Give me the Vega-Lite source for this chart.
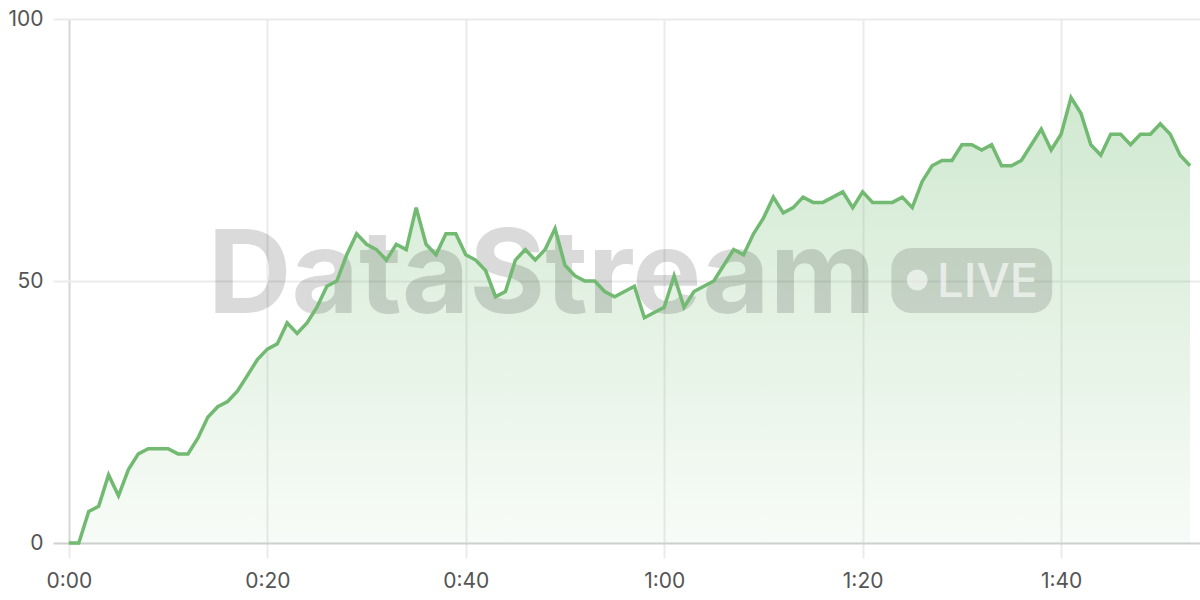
{
  "$schema": "https://vega.github.io/schema/vega-lite/v6.json",
  "width": 1147,
  "height": 524,
  "autosize": {"type": "none"},
  "padding": {"left": 53, "top": 19, "right": 0, "bottom": 57},
  "background": "#ffffff",
  "config": {"view": {"stroke": null}},
  "encoding": {
    "x": {
      "field": "t", "type": "quantitative",
      "scale": {"domain": [-1.6, 114], "nice": false, "zero": false},
      "axis": {
        "title": null,
        "values": [0, 20, 40, 60, 80, 100],
        "labelExpr": "floor(datum.value/60) + ':' + (datum.value % 60 < 10 ? '0' : '') + (datum.value % 60)",
        "grid": true,
        "gridColor": {"condition": {"test": "datum.value === 0", "value": "#d6d6d6"}, "value": "#ebebeb"},
        "gridWidth": 2,
        "tickColor": "#ebebeb",
        "tickWidth": 2,
        "tickSize": 15,
        "domainColor": "#cfcfcf",
        "domainWidth": 2,
        "labelFont": "Inter",
        "labelFontSize": 21,
        "labelColor": "#555555",
        "labelPadding": 12
      }
    },
    "y": {
      "field": "v", "type": "quantitative",
      "scale": {"domain": [0, 100], "nice": false},
      "axis": {
        "title": null,
        "values": [0, 50, 100],
        "grid": true,
        "gridColor": {"condition": {"test": "datum.value === 0", "value": "transparent"}, "value": "#ebebeb"},
        "gridWidth": 2,
        "domain": false,
        "ticks": false,
        "labelFont": "Inter",
        "labelFontSize": 21,
        "labelColor": "#555555",
        "labelPadding": 10
      }
    }
  },
  "datasets": {
    "series": [
      {"t": 0, "v": 0}, {"t": 1, "v": 0}, {"t": 2, "v": 6}, {"t": 3, "v": 7}, {"t": 4, "v": 13},
      {"t": 5, "v": 9}, {"t": 6, "v": 14}, {"t": 7, "v": 17}, {"t": 8, "v": 18}, {"t": 9, "v": 18},
      {"t": 10, "v": 18}, {"t": 11, "v": 17}, {"t": 12, "v": 17}, {"t": 13, "v": 20}, {"t": 14, "v": 24},
      {"t": 15, "v": 26}, {"t": 16, "v": 27}, {"t": 17, "v": 29}, {"t": 18, "v": 32}, {"t": 19, "v": 35},
      {"t": 20, "v": 37}, {"t": 21, "v": 38}, {"t": 22, "v": 42}, {"t": 23, "v": 40}, {"t": 24, "v": 42},
      {"t": 25, "v": 45}, {"t": 26, "v": 49}, {"t": 27, "v": 50}, {"t": 28, "v": 55}, {"t": 29, "v": 59},
      {"t": 30, "v": 57}, {"t": 31, "v": 56}, {"t": 32, "v": 54}, {"t": 33, "v": 57}, {"t": 34, "v": 56},
      {"t": 35, "v": 64}, {"t": 36, "v": 57}, {"t": 37, "v": 55}, {"t": 38, "v": 59}, {"t": 39, "v": 59},
      {"t": 40, "v": 55}, {"t": 41, "v": 54}, {"t": 42, "v": 52}, {"t": 43, "v": 47}, {"t": 44, "v": 48},
      {"t": 45, "v": 54}, {"t": 46, "v": 56}, {"t": 47, "v": 54}, {"t": 48, "v": 56}, {"t": 49, "v": 60},
      {"t": 50, "v": 53}, {"t": 51, "v": 51}, {"t": 52, "v": 50}, {"t": 53, "v": 50}, {"t": 54, "v": 48},
      {"t": 55, "v": 47}, {"t": 56, "v": 48}, {"t": 57, "v": 49}, {"t": 58, "v": 43}, {"t": 59, "v": 44},
      {"t": 60, "v": 45}, {"t": 61, "v": 51}, {"t": 62, "v": 45}, {"t": 63, "v": 48}, {"t": 64, "v": 49},
      {"t": 65, "v": 50}, {"t": 66, "v": 53}, {"t": 67, "v": 56}, {"t": 68, "v": 55}, {"t": 69, "v": 59},
      {"t": 70, "v": 62}, {"t": 71, "v": 66}, {"t": 72, "v": 63}, {"t": 73, "v": 64}, {"t": 74, "v": 66},
      {"t": 75, "v": 65}, {"t": 76, "v": 65}, {"t": 77, "v": 66}, {"t": 78, "v": 67}, {"t": 79, "v": 64},
      {"t": 80, "v": 67}, {"t": 81, "v": 65}, {"t": 82, "v": 65}, {"t": 83, "v": 65}, {"t": 84, "v": 66},
      {"t": 85, "v": 64}, {"t": 86, "v": 69}, {"t": 87, "v": 72}, {"t": 88, "v": 73}, {"t": 89, "v": 73},
      {"t": 90, "v": 76}, {"t": 91, "v": 76}, {"t": 92, "v": 75}, {"t": 93, "v": 76}, {"t": 94, "v": 72},
      {"t": 95, "v": 72}, {"t": 96, "v": 73}, {"t": 97, "v": 76}, {"t": 98, "v": 79}, {"t": 99, "v": 75},
      {"t": 100, "v": 78}, {"t": 101, "v": 85}, {"t": 102, "v": 82}, {"t": 103, "v": 76}, {"t": 104, "v": 74},
      {"t": 105, "v": 78}, {"t": 106, "v": 78}, {"t": 107, "v": 76}, {"t": 108, "v": 78}, {"t": 109, "v": 78},
      {"t": 110, "v": 80}, {"t": 111, "v": 78}, {"t": 112, "v": 74}, {"t": 113, "v": 72}
    ]
  },
  "layer": [
    {
      "data": {"name": "series"},
      "mark": {
        "type": "area",
        "color": {
          "gradient": "linear", "x1": 0, "y1": 0, "x2": 0, "y2": 1,
          "stops": [
            {"offset": 0, "color": "rgba(110,185,110,0.32)"},
            {"offset": 1, "color": "rgba(110,185,110,0.05)"}
          ]
        }
      }
    },
    {
      "data": {"values": [{"t": 82.9, "t2": 99.1, "v": 56.3, "v2": 43.9}]},
      "mark": {"type": "rect", "fill": "#000000", "opacity": 0.13, "cornerRadius": 20},
      "encoding": {"x2": {"field": "t2"}, "y2": {"field": "v2"}}
    },
    {
      "data": {"values": [{"t": 14.0, "v": 43.9, "label": "DataStream"}]},
      "mark": {"type": "text", "font": "Inter", "fontWeight": 700, "fontSize": 116, "align": "left", "baseline": "alphabetic", "fill": "#000000", "opacity": 0.14},
      "encoding": {"text": {"field": "label"}}
    },
    {
      "data": {"values": [{"t": 85.5, "v": 50.2}]},
      "mark": {"type": "point", "shape": "circle", "filled": true, "size": 441, "fill": "#ffffff", "opacity": 0.6, "strokeWidth": 0}
    },
    {
      "data": {"values": [{"t": 87.5, "v": 46.9, "label": "LIVE"}]},
      "mark": {"type": "text", "font": "Inter", "fontWeight": 500, "fontSize": 47, "align": "left", "baseline": "alphabetic", "fill": "#ffffff", "opacity": 0.6},
      "encoding": {"text": {"field": "label"}}
    },
    {
      "data": {"name": "series"},
      "mark": {"type": "line", "color": "#72b972", "strokeWidth": 3.5}
    }
  ]
}
